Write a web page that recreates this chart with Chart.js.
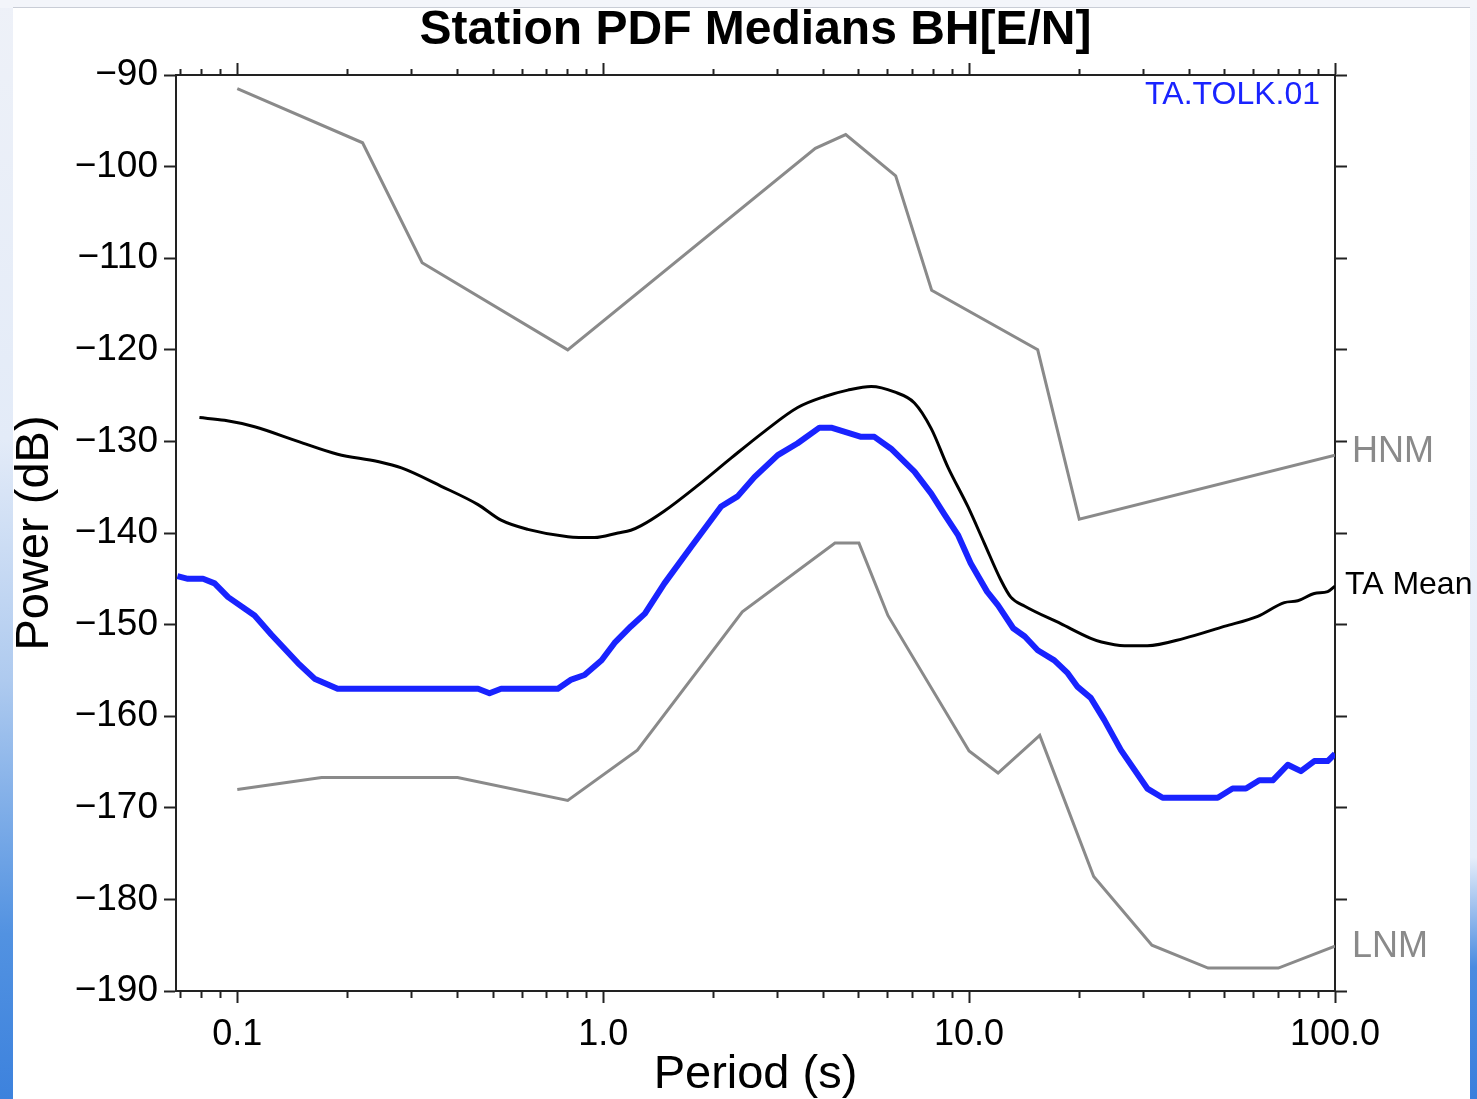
<!DOCTYPE html>
<html>
<head>
<meta charset="utf-8">
<script src="https://cdn.jsdelivr.net/npm/chart.js@4.4.1/dist/chart.umd.min.js"></script>
<style>
html,body{margin:0;padding:0;background:#f3f5fa;overflow:hidden}
canvas{display:block}
</style>
</head>
<body>
<canvas id="c" width="1477" height="1099"></canvas>
<script>
// ---------- data ----------
const chartTitle = 'Station PDF Medians BH[E/N]';
const xAxisTitle = 'Period (s)';
const yAxisTitle = 'Power (dB)';
const stationLabel = 'TA.TOLK.01';
const hnmLabel = 'HNM';
const meanLabel = 'TA Mean';
const lnmLabel = 'LNM';

const hnmPeriods = [0.1, 0.22, 0.32, 0.8, 3.8, 4.6, 6.3, 7.9, 15.4, 20, 100];
const hnmPower   = [-91.5, -97.4, -110.5, -120.0, -98.0, -96.5, -101.0, -113.5, -120.0, -138.5, -131.5];

const lnmPeriods = [0.1, 0.17, 0.4, 0.8, 1.24, 2.4, 4.3, 5.0, 6.0, 10.0, 12.0, 15.6, 21.9, 31.6, 45.0, 70.0, 100];
const lnmPower   = [-168.0, -166.7, -166.7, -169.2, -163.7, -148.6, -141.1, -141.1, -149.0, -163.8, -166.2, -162.1, -177.5, -185.0, -187.5, -187.5, -185.1];

const meanPeriods = [0.0788, 0.0923, 0.1115, 0.1465, 0.188, 0.242, 0.281, 0.361, 0.455, 0.526, 0.622, 0.801, 0.947, 1.097, 1.19, 1.27, 1.47, 1.815, 2.24, 2.76, 3.40, 4.03, 4.66, 5.40, 6.25, 7.09, 7.88, 8.75, 9.92, 11.0, 12.2, 13.0, 14.2, 17.8, 21.5, 23.0, 26.6, 30.7, 38.7, 49.8, 61.5, 72.7, 79.1, 87.8, 95.5, 100];
const meanPower   = [-127.4, -127.7, -128.4, -130.0, -131.4, -132.2, -132.9, -134.9, -136.9, -138.6, -139.6, -140.4, -140.5, -140.0, -139.7, -139.2, -137.6, -134.8, -131.8, -128.9, -126.3, -125.1, -124.4, -124.0, -124.6, -125.8, -128.6, -132.8, -137.1, -141.1, -145.1, -147.0, -148.0, -149.9, -151.5, -151.9, -152.3, -152.3, -151.5, -150.2, -149.1, -147.6, -147.4, -146.6, -146.4, -145.8];

const stationPeriods = [0.0686, 0.0733, 0.0806, 0.0867, 0.0944, 0.1115, 0.124, 0.1465, 0.1626, 0.188, 0.455, 0.489, 0.526, 0.752, 0.818, 0.889, 0.99, 1.074, 1.19, 1.30, 1.47, 1.74, 2.10, 2.33, 2.59, 3.00, 3.40, 3.90, 4.20, 5.07, 5.51, 6.12, 7.09, 7.88, 8.57, 9.32, 10.1, 11.2, 12.0, 13.2, 14.2, 15.4, 17.1, 18.6, 19.8, 21.5, 23.4, 26.0, 30.7, 33.8, 47.8, 52.5, 57.1, 62.1, 67.6, 74.3, 80.7, 87.8, 95.5, 100];
const stationPower   = [-144.7, -145.0, -145.0, -145.5, -147.0, -149.0, -151.1, -154.2, -155.9, -157.0, -157.0, -157.5, -157.0, -157.0, -156.0, -155.5, -153.9, -152.0, -150.2, -148.8, -145.5, -141.5, -137.1, -136.0, -133.9, -131.5, -130.2, -128.5, -128.5, -129.5, -129.5, -130.8, -133.3, -135.7, -138.0, -140.2, -143.3, -146.4, -147.9, -150.4, -151.3, -152.8, -153.9, -155.3, -156.8, -158.0, -160.4, -163.7, -167.9, -168.9, -168.9, -167.9, -167.9, -167.0, -167.0, -165.3, -166.0, -164.9, -164.9, -164.1];

const xMin = 0.068, xMax = 100;
const yMin = -190, yMax = -90, yStep = 10;
const xMajorTicks = [0.1, 1, 10, 100];
const xMajorTickLabels = ['0.1', '1.0', '10.0', '100.0'];
const xMinorTicks = [0.07, 0.08, 0.09, 0.2, 0.3, 0.4, 0.5, 0.6, 0.7, 0.8, 0.9, 2, 3, 4, 5, 6, 7, 8, 9, 20, 30, 40, 50, 60, 70, 80, 90];

// ---------- helpers ----------
const FONT = "'Liberation Sans', Arial, Helvetica, sans-serif";
const AXIS_COLOR = '#222222';
const GRAY = '#8a8a8a';
const BLUE = 'rgb(25,35,255)';
const TICK_LEN = 12;
const MINOR_LEN = 6;

const pts = (xs, ys) => xs.map((x, i) => ({x: x, y: ys[i]}));
const allXTicks = xMinorTicks.concat(xMajorTicks).sort((a, b) => a - b);
const isMajor = v => xMajorTicks.includes(v);
const setXTicks = scale => { scale.ticks = allXTicks.map(v => ({value: v, major: isMajor(v)})); };
const xLabel = v => { const i = xMajorTicks.indexOf(v); return i >= 0 ? xMajorTickLabels[i] : ''; };

const backgroundPlugin = {
  id: 'pageBackground',
  beforeDraw(chart) {
    const ctx = chart.ctx, W = chart.width, H = chart.height;
    ctx.save();
    ctx.fillStyle = '#f3f5fa';
    ctx.fillRect(0, 0, W, H);
    ctx.fillStyle = '#ffffff';
    ctx.fillRect(13, 8, 1457, H - 8);
    ctx.fillStyle = '#c9cdd6';
    ctx.fillRect(13, 7, 1457, 1);
    let g = ctx.createLinearGradient(0, 0, 0, H);
    g.addColorStop(0, '#eef1f8');
    g.addColorStop(0.4, '#e3ebf8');
    g.addColorStop(0.62, '#aecaef');
    g.addColorStop(0.85, '#5292e1');
    g.addColorStop(1, '#3d82dd');
    ctx.fillStyle = g;
    ctx.fillRect(0, 8, 13, H - 8);
    g = ctx.createLinearGradient(0, 0, 0, H);
    g.addColorStop(0, '#f2f5fb');
    g.addColorStop(0.78, '#e6eefa');
    g.addColorStop(0.82, '#a8c6ef');
    g.addColorStop(0.88, '#4a8be0');
    g.addColorStop(1, '#3b7fdc');
    ctx.fillStyle = g;
    ctx.fillRect(1470, 8, 7, H - 8);
    ctx.restore();
  }
};

const labelPlugin = {
  id: 'curveLabels',
  afterDraw(chart) {
    const ctx = chart.ctx, area = chart.chartArea, y = chart.scales.y;
    ctx.save();
    ctx.textBaseline = 'middle';
    ctx.textAlign = 'left';
    ctx.font = '36px ' + FONT;
    ctx.fillStyle = GRAY;
    ctx.fillText(hnmLabel, area.right + 17, y.getPixelForValue(hnmPower[hnmPower.length - 1]) - 3);
    ctx.fillText(lnmLabel, area.right + 17, y.getPixelForValue(lnmPower[lnmPower.length - 1]) + 1);
    ctx.font = '32px ' + FONT;
    ctx.fillStyle = '#000';
    ctx.fillText(meanLabel, area.right + 10, y.getPixelForValue(meanPower[meanPower.length - 1]) - 1);
    ctx.textAlign = 'right';
    ctx.fillStyle = BLUE;
    ctx.fillText(stationLabel, area.right - 15, area.top + 20);
    ctx.restore();
  }
};

const gridCommon = {
  display: true,
  drawOnChartArea: false,
  drawTicks: true,
  tickLength: TICK_LEN,
  color: AXIS_COLOR,
  tickWidth: 2
};
const borderCommon = {display: true, color: AXIS_COLOR, width: 2};

new Chart(document.getElementById('c'), {
  type: 'line',
  data: {
    datasets: [
      {label: hnmLabel, data: pts(hnmPeriods, hnmPower), borderColor: GRAY, borderWidth: 3, pointRadius: 0, tension: 0, fill: false},
      {label: lnmLabel, data: pts(lnmPeriods, lnmPower), borderColor: GRAY, borderWidth: 3, pointRadius: 0, tension: 0, fill: false},
      {label: meanLabel, data: pts(meanPeriods, meanPower), borderColor: '#000', borderWidth: 3, pointRadius: 0, tension: 0.3, fill: false, cubicInterpolationMode: 'monotone'},
      {label: stationLabel, data: pts(stationPeriods, stationPower), borderColor: BLUE, borderWidth: 6, pointRadius: 0, tension: 0, fill: false, borderJoinStyle: 'round'}
    ]
  },
  options: {
    responsive: false,
    animation: false,
    devicePixelRatio: 1,
    layout: {padding: 0},
    plugins: {
      legend: {display: false},
      tooltip: {enabled: false},
      title: {
        display: true,
        text: chartTitle,
        fullSize: false,
        color: '#000',
        font: {family: FONT, size: 48, weight: 'bold', lineHeight: 1},
        padding: {top: 7, bottom: 0}
      }
    },
    scales: {
      x: {
        type: 'logarithmic', position: 'bottom', min: xMin, max: xMax,
        afterBuildTicks: setXTicks,
        afterFit: s => { s.height = 108; },
        grid: Object.assign({}, gridCommon, {
          tickBorderDash: c => (c.tick && !isMajor(c.tick.value)) ? [MINOR_LEN, 100] : []
        }),
        border: borderCommon,
        ticks: {autoSkip: false, maxRotation: 0, minRotation: 0, padding: 10, color: '#000',
          font: {family: FONT, size: 36}, callback: v => xLabel(v)},
        title: {display: true, text: xAxisTitle, color: '#000', font: {family: FONT, size: 47, lineHeight: 1}, padding: {top: 0, bottom: 0}}
      },
      x2: {
        type: 'logarithmic', position: 'top', min: xMin, max: xMax,
        afterBuildTicks: setXTicks,
        afterFit: s => { s.height = 20; },
        grid: Object.assign({}, gridCommon, {
          tickBorderDash: c => (c.tick && !isMajor(c.tick.value)) ? [0, TICK_LEN - MINOR_LEN, MINOR_LEN, 100] : []
        }),
        border: borderCommon,
        ticks: {display: false, autoSkip: false}
      },
      y: {
        type: 'linear', position: 'left', min: yMin, max: yMax,
        afterFit: s => { s.width = 176; },
        grid: gridCommon,
        border: borderCommon,
        ticks: {stepSize: yStep, padding: 6, color: '#000', font: {family: FONT, size: 37},
          callback: v => (v < 0 ? '\u2212' : '') + Math.abs(v)},
        title: {display: true, text: yAxisTitle, color: '#000', font: {family: FONT, size: 47, lineHeight: 1}, padding: {top: 11.5, bottom: 0}}
      },
      y2: {
        type: 'linear', position: 'right', min: yMin, max: yMax,
        afterFit: s => { s.width = 142; },
        grid: gridCommon,
        border: borderCommon,
        ticks: {display: false, stepSize: yStep}
      }
    }
  },
  plugins: [backgroundPlugin, labelPlugin]
});
</script>
</body>
</html>
